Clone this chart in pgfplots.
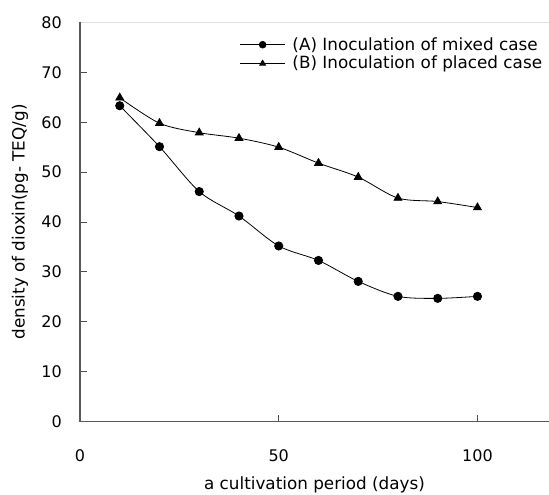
\documentclass[border=0pt]{standalone}
\usepackage{fontspec}
\setmainfont{DejaVu Sans}
\usepackage{pgfplots}
\pgfplotsset{compat=1.18}

\begin{document}
\begin{tikzpicture}
% page = the cropped reference frame (1px = 0.75pt)
\useasboundingbox (-60pt,-54.3pt) rectangle (351.75pt,316.2pt);
\begin{axis}[
  at={(0,0)}, anchor=south west,
  scale only axis, width=351.75pt, height=299.4pt,
  xmin=0, xmax=118, ymin=0, ymax=80,
  xtick={0,50,100}, ytick={0,10,...,80},
  tick pos=left, tick align=inside, major tick length=5pt,
  tick style={black!70, line width=0.7pt},
  axis line style={draw=none},
  font=\fontsize{12.6}{15}\selectfont,
  /pgf/number format/assume math mode=true,
  tick label style={font=\fontsize{12}{14}\selectfont, inner sep=0pt},
  yticklabel style={xshift=-13.5pt},
  xticklabel style={yshift=-20.6pt},
  xlabel={a cultivation period (days)},
  ylabel={density of dioxin(pg- TEQ/g)},
  xlabel style={at={(axis description cs:0.5,0)}, anchor=base, yshift=-50.8pt, inner sep=0pt},
  ylabel style={at={(axis description cs:0,0.5)}, anchor=center, yshift=45pt, inner sep=0pt},
  legend style={draw=none, fill=none, at={(1,1)}, anchor=north east,
    xshift=-5pt, yshift=-11pt, inner sep=0pt, row sep=3pt,
    font=\fontsize{12.6}{15}\selectfont,
    nodes={inner sep=0pt, anchor=west}},
  legend cell align=left,
  legend image code/.code={%
    \draw[#1, mark repeat=2, mark phase=2, mark size=2.5pt]
      plot coordinates {(0pt,0pt) (16.9pt,0pt) (33.75pt,0pt)};
    \path (39pt,0pt);},
  after end axis/.code={%
    \draw[black!12, line width=0.75pt] (rel axis cs:0,1) -- (rel axis cs:1,1);
    \draw[black!65, line width=1pt] (rel axis cs:0,1) -- (rel axis cs:0,0) -- (rel axis cs:1,0);
  },
]
\addplot[black, line width=0.6pt, smooth, tension=0.5, mark=*, mark size=3.1pt]
  coordinates {(10,63.3)(20,55.1)(30,46.1)(40,41.2)(50,35.2)(60,32.3)(70,28.1)(80,25.1)(90,24.7)(100,25.1)};
\addlegendentry{(A) Inoculation of mixed case}
\addplot[black, line width=0.6pt, smooth, tension=0.5, mark=triangle*, mark size=3.4pt]
  coordinates {(10,64.9)(20,59.8)(30,57.9)(40,56.8)(50,55.0)(60,51.8)(70,49.0)(80,44.8)(90,44.1)(100,42.9)};
\addlegendentry{(B) Inoculation of placed case}
\end{axis}
\end{tikzpicture}
\end{document}
